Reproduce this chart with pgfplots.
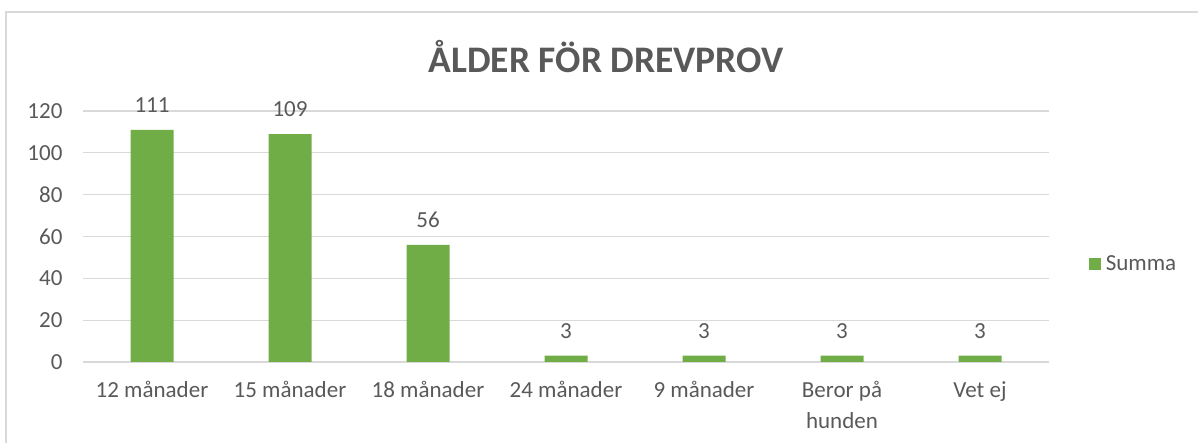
\documentclass[border=0pt]{standalone}
\usepackage{pgfplots}
\pgfplotsset{compat=1.18}
\usepackage{fontspec}
\setmainfont{Carlito}
\definecolor{bargreen}{HTML}{70AD47}
\definecolor{txt}{HTML}{595959}
\definecolor{gridc}{HTML}{D9D9D9}
\begin{document}
\begin{tikzpicture}[x=1pt,y=1pt]
\path[use as bounding box] (0,0) rectangle (1198,443);
\begin{scope}
\clip (0,0) rectangle (1198,443);
\draw[gridc, line width=1.5pt] (6,-20) -- (6,431) -- (1220,431);
\end{scope}
\node[text=txt, font=\fontsize{37.5}{44}\selectfont\bfseries] at (606,386) {ÅLDER FÖR DREVPROV};
\begin{axis}[
  at={(83pt,81pt)}, anchor=south west,
  width=966pt, height=251pt, scale only axis,
  xmin=-0.5, xmax=6.5, ymin=0, ymax=120,
  ytick={0,20,...,120},
  xtick={0,...,6},
  xticklabels={12 månader, 15 månader, 18 månader, 24 månader, 9 månader, {Beror på\\hunden}, Vet ej},
  xticklabel style={align=center, font=\fontsize{23}{31}\selectfont, text=txt, yshift=-16pt},
  yticklabel style={font=\fontsize{23}{27}\selectfont, text=txt, xshift=-17pt},
  /pgf/number format/assume math mode=true,
  axis line style={draw=none},
  major tick length=0pt,
  tick style={draw=none},
  ymajorgrids, grid style={gridc, line width=1.2pt},
  ybar, bar width=43pt,
  nodes near coords,
  nodes near coords style={font=\fontsize{23}{27}\selectfont, text=txt, yshift=14pt},
  legend style={at={(1.041,0.39)}, anchor=west, draw=none, fill=none, font=\fontsize{23}{27}\selectfont, text=txt, inner sep=0pt},
  legend image code/.code={\fill[bargreen] (0pt,-6pt) rectangle (12pt,6pt);},
  legend cell align=left,
  clip=false,
]
\addplot[fill=bargreen, draw=none] coordinates {(0,111) (1,109) (2,56) (3,3) (4,3) (5,3) (6,3)};
\addlegendentry{\hspace{3pt}Summa}
\end{axis}
\end{tikzpicture}
\end{document}
